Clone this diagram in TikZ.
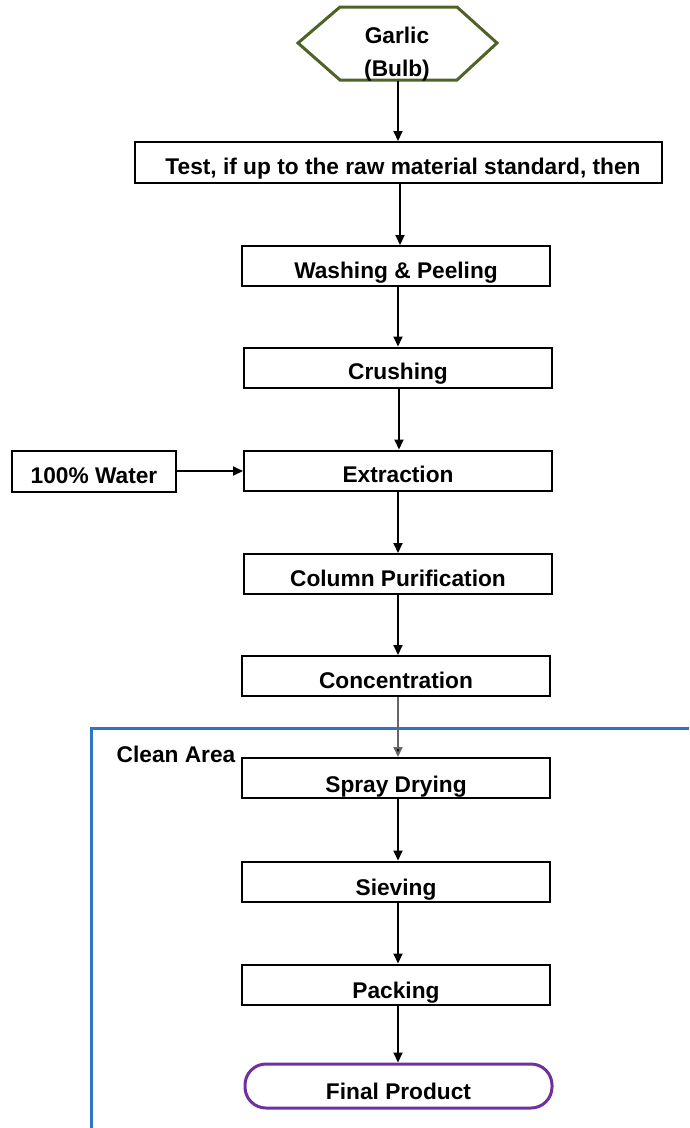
\documentclass[tikz,border=0pt]{standalone}
\usepackage{fontspec}
\setmainfont{Liberation Sans}
\usetikzlibrary{arrows.meta}
\definecolor{hexgreen}{RGB}{79,98,40}
\definecolor{areablue}{RGB}{46,117,198}
\definecolor{finalpurple}{RGB}{112,48,160}
\newcommand{\lowtext}[2]{\raisebox{-#1pt}[0pt][0pt]{#2}}
\begin{document}
\begin{tikzpicture}[x=1pt,y=-1pt,
  every node/.style={font=\fontsize{22.7}{26}\selectfont\bfseries},
  procbox/.style={draw=black,line width=2pt,minimum width=308pt,minimum height=40pt,inner sep=0pt},
  flow/.style={draw=black,line width=2pt,-{Triangle[length=10pt,width=9pt]}},
  grayflow/.style={draw=black!60,line width=2pt,-{Triangle[length=10pt,width=9pt,fill=black]}}
]
\useasboundingbox (0,0) rectangle (689,1128);
% clean area
\draw[areablue,line width=3pt] (689,728) -- (91,728) -- (91,1140);
\node[anchor=base,inner sep=0pt] (clean) at (176,762) {Clean Area};
% hexagon
\draw[hexgreen,line width=3pt] (298,43) -- (340,7) -- (457,7) -- (497,43) -- (457,80) -- (340,80) -- cycle;
\node[anchor=base,inner sep=0pt] (garlic) at (397,43) {Garlic};
\node[anchor=base,inner sep=0pt] (bulb) at (397,76) {(Bulb)};
\coordinate (garlicbot) at (398,81);
% boxes
\node[procbox,minimum width=527pt,minimum height=41pt] (test) at (398.5,162.5) {\lowtext{12}{\hspace{9pt}Test, if up to the raw material standard, then}};
\node[procbox] (wash) at (396,266) {\lowtext{12}{Washing \& Peeling}};
\node[procbox] (crush) at (398,367.5) {\lowtext{12}{Crushing}};
\node[procbox] (extract) at (398,470.5) {\lowtext{12}{Extraction}};
\node[procbox,minimum width=164pt,minimum height=41pt] (water) at (94,471) {\lowtext{12}{100\% Water}};
\node[procbox] (column) at (398,574) {\lowtext{12}{Column Purification}};
\node[procbox] (conc) at (396,676) {\lowtext{12}{Concentration}};
\node[procbox] (spray) at (396,778) {\lowtext{14}{Spray Drying}};
\node[procbox] (sieve) at (396,881.5) {\lowtext{14}{Sieving}};
\node[procbox] (pack) at (396,984.5) {\lowtext{14}{Packing}};
\node[draw=finalpurple,line width=3pt,minimum width=307pt,minimum height=44pt,rounded corners=21pt,inner sep=0pt] (final) at (398.5,1086) {\lowtext{13}{Final Product}};
% connectors
\draw[flow] (garlicbot) -- (test.north -| garlicbot);
\draw[flow] ([xshift=1.5pt]test.south) -- ([xshift=1.5pt]test.south |- wash.north);
\draw[flow] ([xshift=2pt]wash.south) -- ([xshift=2pt]wash.south |- crush.north);
\draw[flow] ([xshift=1pt]crush.south) -- ([xshift=1pt]crush.south |- extract.north);
\draw[flow] (extract.south) -- (column.north);
\draw[flow] (column.south) -- (column.south |- conc.north);
\draw[grayflow] ([xshift=2pt]conc.south) -- ([xshift=2pt]conc.south |- spray.north);
\draw[flow] ([xshift=2pt]spray.south) -- ([xshift=2pt]spray.south |- sieve.north);
\draw[flow] ([xshift=2pt]sieve.south) -- ([xshift=2pt]sieve.south |- pack.north);
\draw[flow] ([xshift=2pt]pack.south) -- ([xshift=2pt]pack.south |- final.north);
\draw[flow] (water.east) -- (water.east -| extract.west);
\end{tikzpicture}
\end{document}
